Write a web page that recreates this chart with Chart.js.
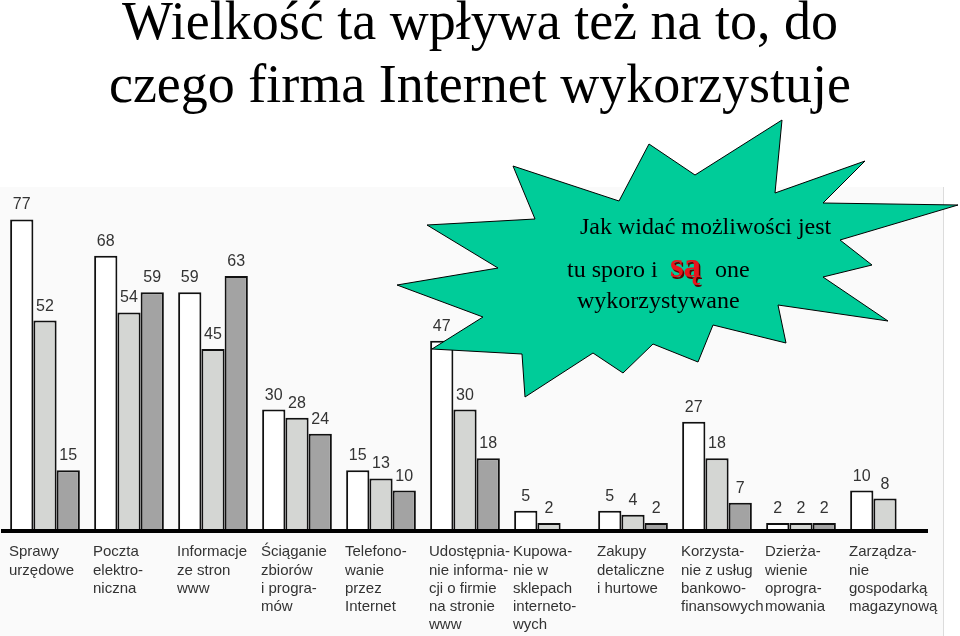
<!DOCTYPE html>
<html lang="pl">
<head>
<meta charset="utf-8">
<title>Wielkość ta wpływa też na to, do czego firma Internet wykorzystuje</title>
<script src="https://cdn.jsdelivr.net/npm/chart.js@4/dist/chart.umd.min.js"></script>
<style>
  html, body { margin: 0; padding: 0; background: #fff; }
  #wrap { position: relative; width: 960px; height: 636px; }
</style>
</head>
<body>
<div id="wrap"><canvas id="chart" width="960" height="636"></canvas></div>
<script>
// --- data ---
const titleLines = ['Wielkość ta wpływa też na to, do', 'czego firma Internet wykorzystuje'];

const categories = [
  ['Sprawy', 'urzędowe'],
  ['Poczta', 'elektro-', 'niczna'],
  ['Informacje', 'ze stron', 'www'],
  ['Ściąganie', 'zbiorów', 'i progra-', 'mów'],
  ['Telefono-', 'wanie', 'przez', 'Internet'],
  ['Udostępnia-', 'nie informa-', 'cji o firmie', 'na stronie', 'www'],
  ['Kupowa-', 'nie w', 'sklepach', 'interneto-', 'wych'],
  ['Zakupy', 'detaliczne', 'i hurtowe'],
  ['Korzysta-', 'nie z usług', 'bankowo-', 'finansowych'],
  ['Dzierża-', 'wienie', 'oprogra-', 'mowania'],
  ['Zarządza-', 'nie', 'gospodarką', 'magazynową'],
];

const seriesA = [77, 68, 59, 30, 15, 47, 5, 5, 27, 2, 10];
const seriesB = [52, 54, 45, 28, 13, 30, 2, 4, 18, 2, 8];
const seriesC = [15, 59, 63, 24, 10, 18, null, 2, 7, 2, null];

const calloutLine1 = 'Jak widać możliwości jest';
const calloutLine2 = ['tu sporo i', 'są', 'one'];
const calloutLine3 = 'wykorzystywane';

// --- decoration: star burst outline (canvas px) ---
const burstOutline = [
  [782, 120], [775, 193], [865, 161], [823, 203], [958, 205], [840, 240],
  [872, 265], [823, 277], [888, 321], [778, 305], [786, 343], [713, 325],
  [698, 362], [653, 344], [623, 373], [593, 353], [525, 397], [522, 354],
  [432, 349], [483, 317], [397, 285], [498, 268], [427, 225], [535, 219],
  [513, 166], [619, 201], [649, 144], [695, 175],
];

const SANS = '"Liberation Sans", Arial, sans-serif';
const SERIF = '"Liberation Serif", "Times New Roman", serif';

const backdrop = {
  id: 'backdrop',
  beforeDraw(chart) {
    const { ctx } = chart;
    ctx.save();
    ctx.fillStyle = '#ffffff';
    ctx.fillRect(0, 0, chart.width, chart.height);
    ctx.fillStyle = '#fafafa';
    ctx.fillRect(0, 187, 943, chart.height - 187);
    ctx.strokeStyle = '#dcdcdc';
    ctx.lineWidth = 1;
    ctx.beginPath();
    ctx.moveTo(943.5, 187);
    ctx.lineTo(943.5, chart.height);
    ctx.stroke();

    ctx.fillStyle = '#000';
    ctx.font = '54px ' + SERIF;
    ctx.textAlign = 'center';
    ctx.textBaseline = 'alphabetic';
    ctx.fillText(titleLines[0], 480, 39);
    ctx.fillText(titleLines[1], 480, 102);
    ctx.restore();
  },
};

const valueLabels = {
  id: 'valueLabels',
  afterDatasetsDraw(chart) {
    const { ctx } = chart;
    ctx.save();
    ctx.font = '16px ' + SANS;
    ctx.fillStyle = '#333';
    ctx.textAlign = 'center';
    ctx.textBaseline = 'alphabetic';
    chart.data.datasets.forEach((ds, i) => {
      chart.getDatasetMeta(i).data.forEach((bar, j) => {
        const v = ds.data[j];
        if (v == null) return;
        ctx.fillText(String(v), bar.x, bar.y - 10);
      });
    });
    ctx.restore();
  },
};

const callout = {
  id: 'callout',
  afterDraw(chart) {
    const { ctx } = chart;
    ctx.save();
    ctx.beginPath();
    burstOutline.forEach(([x, y], i) => (i ? ctx.lineTo(x, y) : ctx.moveTo(x, y)));
    ctx.closePath();
    ctx.fillStyle = '#00cc99';
    ctx.fill();
    ctx.strokeStyle = '#000';
    ctx.lineWidth = 1;
    ctx.stroke();

    ctx.fillStyle = '#000';
    ctx.textAlign = 'left';
    ctx.textBaseline = 'alphabetic';
    ctx.font = '24px ' + SERIF;
    ctx.fillText(calloutLine1, 580, 234);
    ctx.fillText(calloutLine2[0], 567, 277);
    ctx.fillText(calloutLine2[2], 715, 277);
    ctx.fillText(calloutLine3, 577, 308);

    // emphasised word
    ctx.font = 'bold 35px ' + SERIF;
    ctx.fillStyle = '#5a0000';
    ctx.fillText(calloutLine2[1], 671.5, 278.5);
    ctx.fillStyle = '#e8141c';
    ctx.fillText(calloutLine2[1], 670, 277);
    ctx.restore();
  },
};

new Chart(document.getElementById('chart').getContext('2d'), {
  type: 'bar',
  data: {
    labels: categories,
    datasets: [
      { label: 'A', data: seriesA, backgroundColor: '#ffffff' },
      { label: 'B', data: seriesB, backgroundColor: '#d4d6d3' },
      { label: 'C', data: seriesC, backgroundColor: '#a3a3a3' },
    ].map((d) => ({
      ...d,
      borderColor: '#111',
      borderWidth: 2,
      categoryPercentage: 0.83,
      barPercentage: 1,
    })),
  },
  options: {
    responsive: false,
    animation: false,
    layout: { padding: { top: 187, left: 3, right: 33, bottom: 0 } },
    plugins: {
      legend: { display: false },
      tooltip: { enabled: false },
      title: { display: false },
    },
    scales: {
      x: {
        grid: { display: false, drawTicks: false },
        border: { display: true, color: '#000', width: 4, z: 1 },
        ticks: {
          color: '#333',
          font: { family: SANS, size: 15, lineHeight: 1.22 },
          align: 'start',
          labelOffset: -36,
          padding: 12,
          maxRotation: 0,
          autoSkip: false,
        },
        afterFit(scale) {
          scale.height = 105;
          scale.paddingLeft = 0;
          scale.paddingRight = 0;
        },
      },
      y: { display: false, min: 0, max: 85 },
    },
  },
  plugins: [backdrop, valueLabels, callout],
});
</script>
</body>
</html>
